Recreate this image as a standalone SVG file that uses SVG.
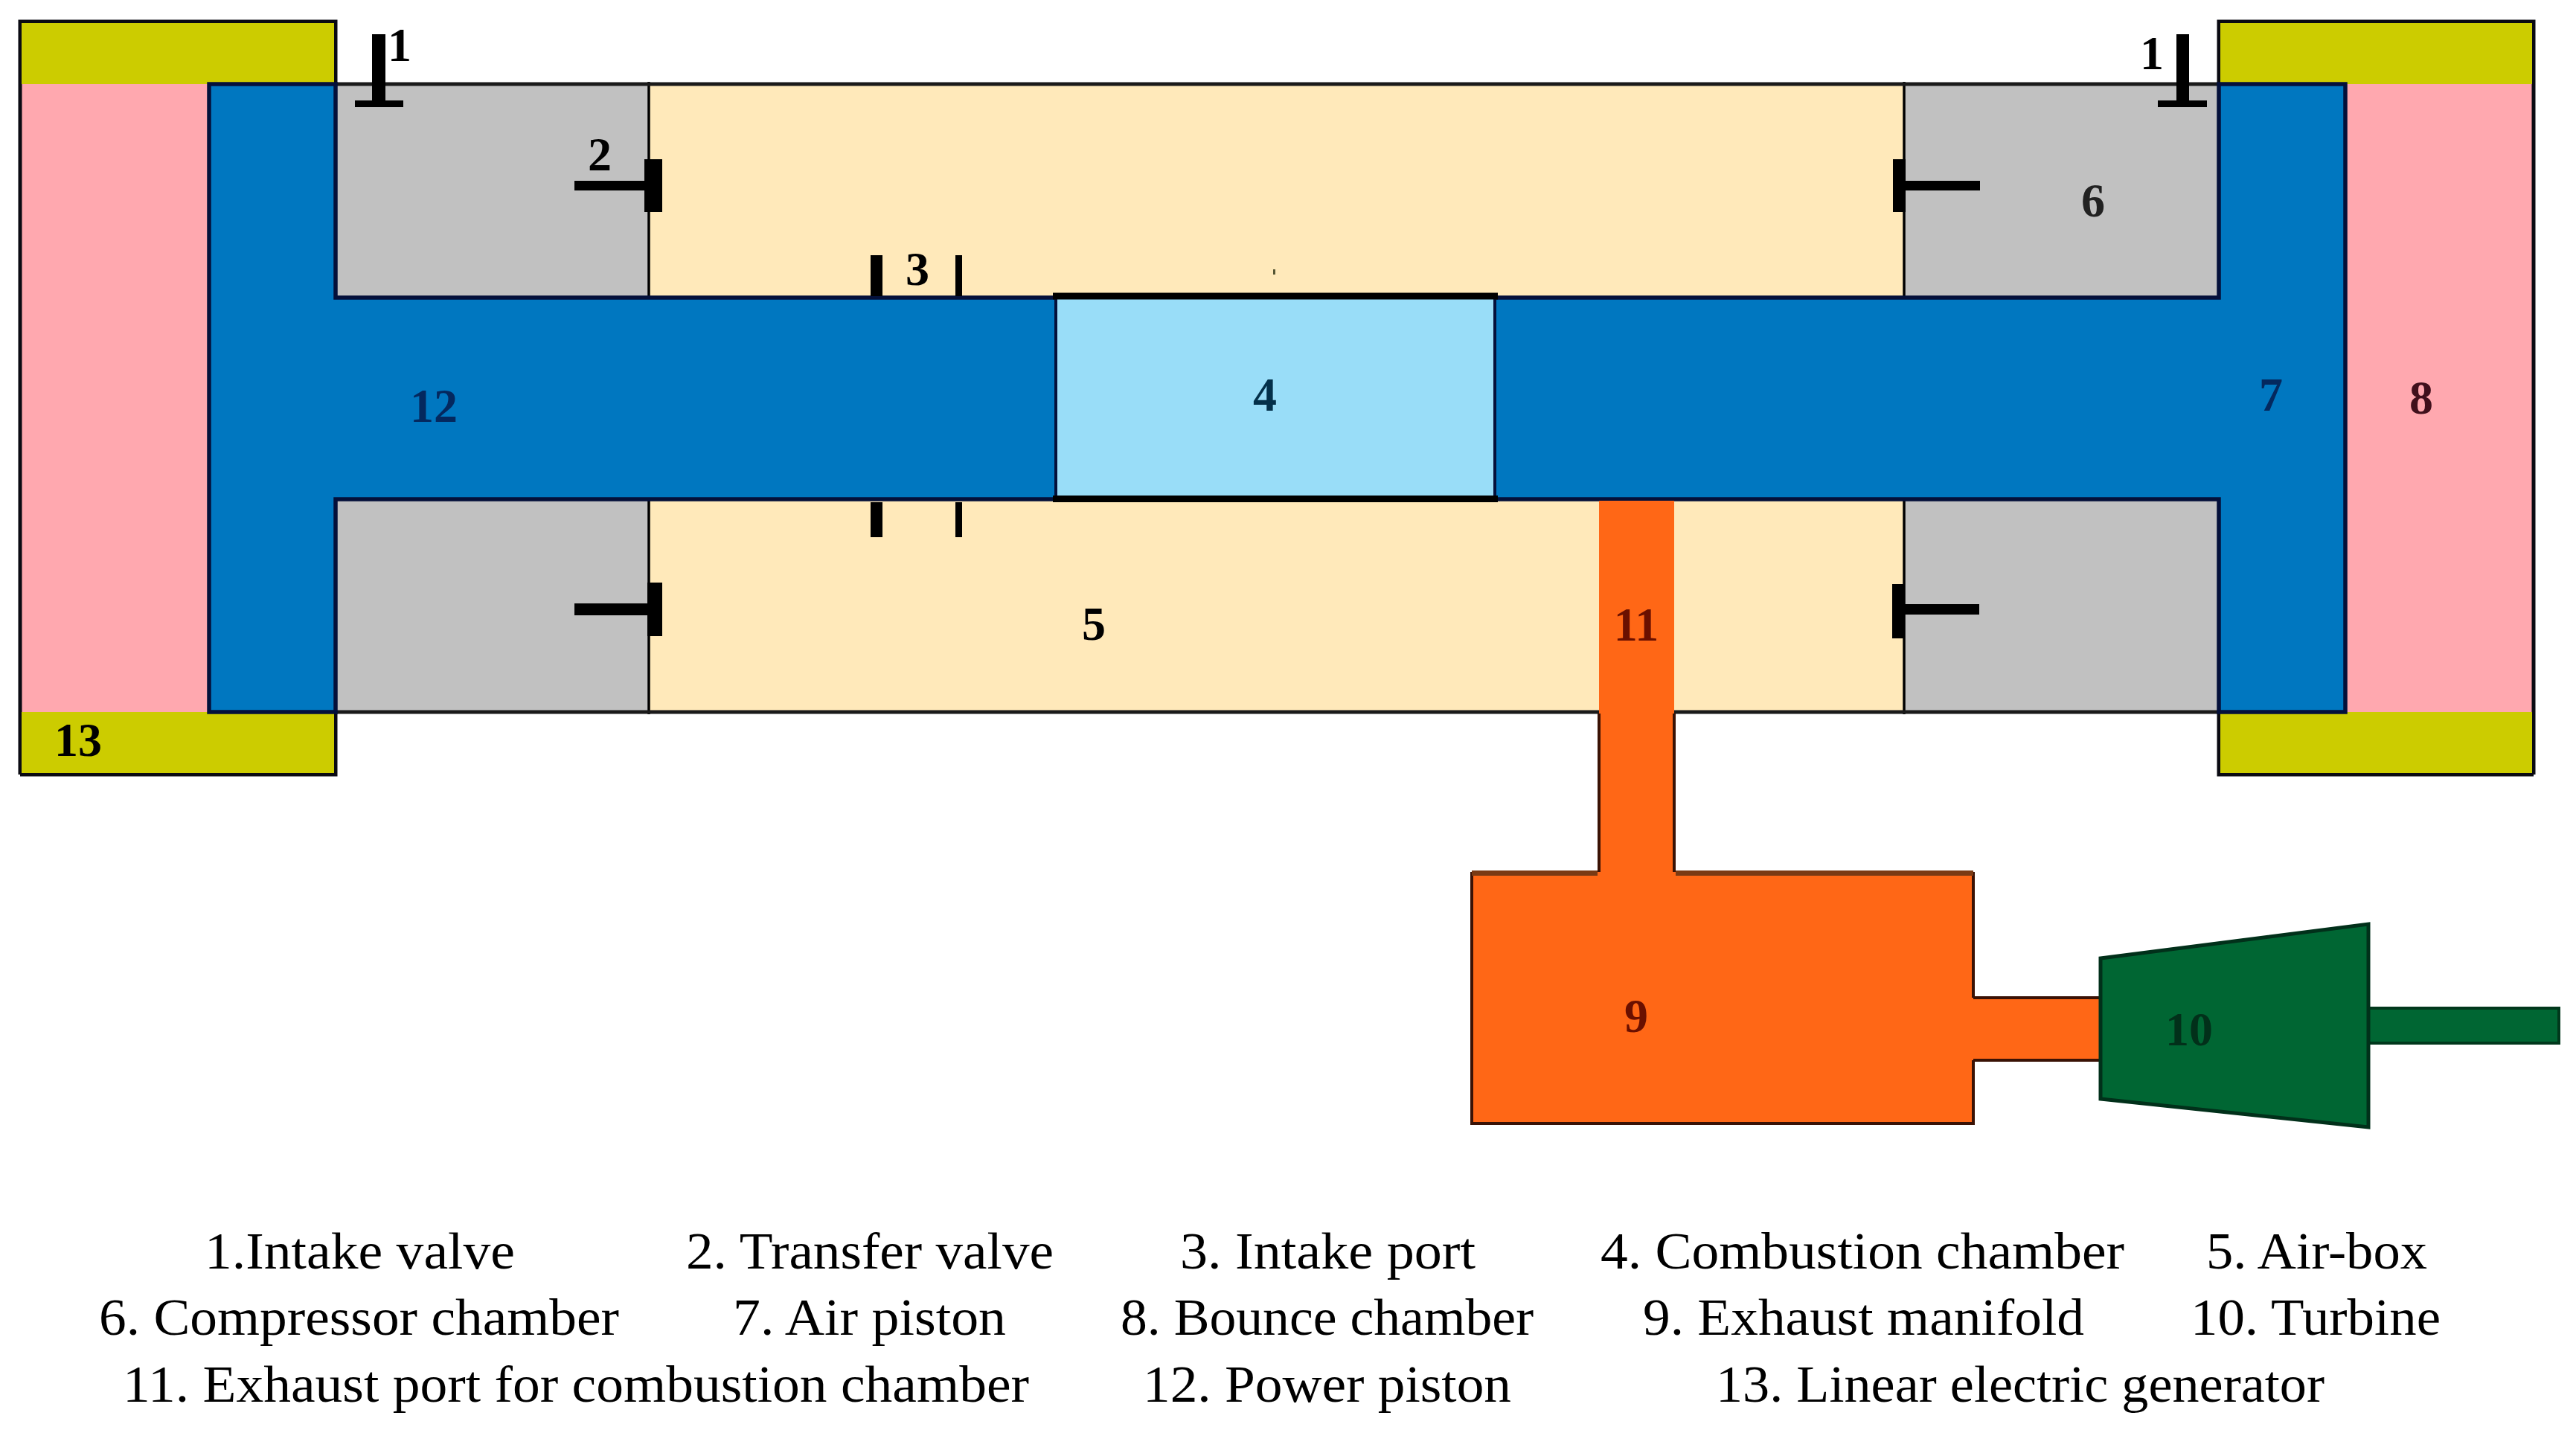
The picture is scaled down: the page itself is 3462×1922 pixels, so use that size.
<svg xmlns="http://www.w3.org/2000/svg" width="3462" height="1922" viewBox="0 0 3462 1922">
<style>
.o{stroke:#0a0a12;stroke-width:5}
.th{stroke:#000;stroke-width:3.5;fill:none}
.k{fill:#000}
text{font-family:"Liberation Serif","Times New Roman",serif;fill:#000}
.n{font-size:64px;font-weight:700;text-anchor:middle}
.l{font-size:70px}
</style>
<rect width="3462" height="1922" fill="#fff"/>
<g id="bounce-chamber-left"><rect x="27" y="113" width="254" height="844" fill="#ffa8af"/></g>
<g id="bounce-chamber-right"><rect x="3152" y="113" width="253" height="844" fill="#ffa8af"/></g>
<g id="generator-left"><path d="M27 1041V29H451V113M27 1041H451V957" fill="none" class="o"/><rect x="29" y="31" width="420" height="82" fill="#cccc00"/><rect x="29" y="957" width="420" height="82" fill="#cccc00"/></g>
<g id="generator-right"><path d="M3405 1041V29H2982V113M3405 1041H2982V957" fill="none" class="o"/><rect x="2984" y="31" width="419" height="82" fill="#cccc00"/><rect x="2984" y="957" width="419" height="82" fill="#cccc00"/></g>
<g id="compressor-chambers">
<rect x="451" y="113" width="421" height="287" fill="#c1c1c1"/><rect x="451" y="671" width="421" height="286" fill="#c1c1c1"/>
<rect x="2559" y="113" width="423" height="287" fill="#c1c1c1"/><rect x="2559" y="671" width="423" height="286" fill="#c1c1c1"/>
</g>
<g id="air-box">
<rect x="872" y="113" width="1687" height="287" fill="#ffe9ba"/><rect x="872" y="671" width="1687" height="286" fill="#ffe9ba"/>
<path class="th" d="M872 110V400M872 671V960M2559 110V400M2559 671V960"/>
<path d="M451 113H2982M451 957H2982" stroke="#1a1a1a" stroke-width="5" fill="none"/>
</g>
<g id="pistons"><path d="M281 113H451V400H2982V113H3152V957H2982V671H451V957H281Z" fill="#0077c0" stroke="#04103a" stroke-width="5.5"/></g>
<g id="exhaust-manifold">
<path d="M2149 673V1172H1978V1510H2652V1425H2825V1341H2652V1172H2250V673Z" fill="#ff6716"/>
<path d="M2149 959V1172M2250 959V1172M1978 1172V1510H2652V1425M2652 1172V1341M2652 1341H2822M2652 1425H2822" fill="none" stroke="#3a1205" stroke-width="4"/>
<path d="M1978 1173.500H2147M2252 1173.500H2652" stroke="#7a3a14" stroke-width="7" fill="none"/>
</g>
<g id="turbine">
<path d="M3183 1355H3439V1402H3183Z" fill="#006633" stroke="#01381c" stroke-width="4"/>
<path d="M2823 1288L3183 1242V1515L2823 1477Z" fill="#006633" stroke="#01301a" stroke-width="5"/>
</g>
<g id="combustion-chamber">
<rect x="1419" y="400" width="590" height="270" fill="#99ddf8"/>
<path d="M1419 400V670M2009 400V670" stroke="#04103a" stroke-width="4"/>
<path d="M1415 398H2013M1415 670.500H2013" stroke="#000" stroke-width="9"/>
</g>
<g id="valves">
<path class="k" d="M500 46h18v89h24v9h-65v-9h23zM2925 46h17v89h24v9h-66v-9h25z"/>
<path class="k" d="M772 243h94v-29h24v71h-24v-29h-94zM772 811h98v-28h20v72h-20v-28h-98z"/>
<path class="k" d="M2544 214h17v29h100v13h-100v29h-17zM2543 785h17v27h100v14h-100v32h-17z"/>
</g>
<g id="intake-ports">
<path class="k" d="M1170 343h16v55h-16zM1284 343h9v55h-9zM1170 675h16v47h-16zM1284 675h9v47h-9z"/>
<rect x="1711" y="362" width="3" height="7" fill="#553"/>
</g>
<g id="part-numbers">
<text class="n" x="537" y="82">1</text>
<text class="n" x="2892" y="93">1</text>
<text class="n" x="806" y="229">2</text>
<text class="n" x="1233" y="383">3</text>
<text class="n" x="1700" y="552" style="fill:#04304a">4</text>
<text class="n" x="1470" y="860">5</text>
<text class="n" x="2813" y="291" style="fill:#222">6</text>
<text class="n" x="3052" y="552" style="fill:#04285e">7</text>
<text class="n" x="3254" y="556" style="fill:#40101c">8</text>
<text class="n" x="2199" y="1387" style="fill:#6a1000">9</text>
<text class="n" x="2942" y="1405" style="fill:#02301a">10</text>
<text class="n" x="2199" y="861" style="fill:#6a1000">11</text>
<text class="n" x="583" y="567" style="fill:#04285e">12</text>
<text class="n" x="105" y="1016">13</text>
</g>
<g id="legend">
<text class="l" x="275" y="1705" textLength="417" lengthAdjust="spacingAndGlyphs">1.Intake valve</text>
<text class="l" x="922" y="1705" textLength="494" lengthAdjust="spacingAndGlyphs">2. Transfer valve</text>
<text class="l" x="1586" y="1705" textLength="397" lengthAdjust="spacingAndGlyphs">3. Intake port</text>
<text class="l" x="2151" y="1705" textLength="704" lengthAdjust="spacingAndGlyphs">4. Combustion chamber</text>
<text class="l" x="2965" y="1705" textLength="297" lengthAdjust="spacingAndGlyphs">5. Air-box</text>
<text class="l" x="133" y="1794" textLength="699" lengthAdjust="spacingAndGlyphs">6. Compressor chamber</text>
<text class="l" x="985" y="1794" textLength="367" lengthAdjust="spacingAndGlyphs">7. Air piston</text>
<text class="l" x="1506" y="1794" textLength="555" lengthAdjust="spacingAndGlyphs">8. Bounce chamber</text>
<text class="l" x="2208" y="1794" textLength="593" lengthAdjust="spacingAndGlyphs">9. Exhaust manifold</text>
<text class="l" x="2944" y="1794" textLength="336" lengthAdjust="spacingAndGlyphs">10. Turbine</text>
<text class="l" x="165" y="1884" textLength="1218" lengthAdjust="spacingAndGlyphs">11. Exhaust port for combustion chamber</text>
<text class="l" x="1536" y="1884" textLength="495" lengthAdjust="spacingAndGlyphs">12. Power piston</text>
<text class="l" x="2306" y="1884" textLength="818" lengthAdjust="spacingAndGlyphs">13. Linear electric generator</text>
</g>
</svg>
